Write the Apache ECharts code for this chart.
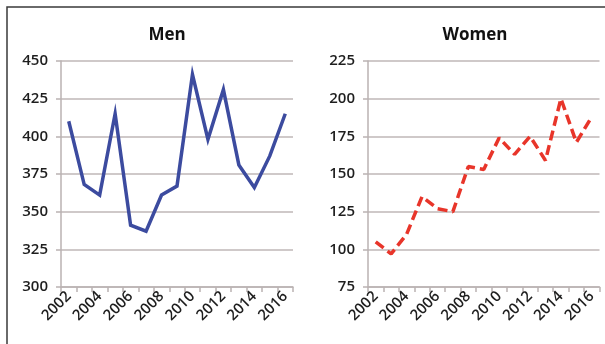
<!DOCTYPE html>
<html>
<head>
<meta charset="utf-8">
<script src="https://cdn.jsdelivr.net/npm/echarts@6/dist/echarts.min.js"></script>
<style>
  html, body { margin: 0; padding: 0; background: #fff; }
  #chart { width: 605px; height: 344px; }
</style>
</head>
<body>
<div id="chart"></div>
<script>
// Annual counts, 2002–2016
const years = ['2002','2003','2004','2005','2006','2007','2008','2009','2010','2011','2012','2013','2014','2015','2016'];
const men   = [410, 368, 361, 415, 341, 337, 361, 367, 441, 398, 431, 381, 366, 387, 415];
const women = [105, 97, 110, 135, 127, 125, 155, 153, 174, 163, 175, 159, 200, 171, 188];
const menTicks   = { min: 300, max: 450, step: 25 };
const womenTicks = { min: 75,  max: 225, step: 25 };

const FONT = '"Open Sans", "Liberation Sans", sans-serif';
const AXIS_COLOR = '#bab2b2';
const TEXT_COLOR = '#1e1e1e';

function xAxis(gridIndex) {
  return {
    type: 'category',
    gridIndex,
    data: years,
    boundaryGap: true,
    axisLine: { lineStyle: { color: AXIS_COLOR, width: 1.5 } },
    axisTick: { show: true, length: 5, alignWithLabel: false, interval: 0, lineStyle: { color: AXIS_COLOR, width: 1.5 } },
    axisLabel: {
      interval: 1, rotate: 45, margin: 7,
      color: TEXT_COLOR, fontFamily: FONT, fontSize: 15, fontWeight: 600
    }
  };
}

function yAxis(gridIndex, t) {
  return {
    type: 'value',
    gridIndex,
    min: t.min, max: t.max, interval: t.step,
    axisLine: { show: true, lineStyle: { color: AXIS_COLOR, width: 1.5 } },
    axisTick: { show: true, length: 5, lineStyle: { color: AXIS_COLOR, width: 1.5 } },
    splitLine: { lineStyle: { color: '#bfb7b7', width: 1.5 } },
    axisLabel: { margin: 13, color: TEXT_COLOR, fontFamily: FONT, fontSize: 15, fontWeight: 600 }
  };
}

const chart = echarts.init(document.getElementById('chart'), null, { renderer: 'canvas' });
chart.setOption({
  animation: false,
  backgroundColor: '#fff',
  title: [
    { text: 'Men',   left: 162, top: 22, textAlign: 'center',
      textStyle: { fontFamily: FONT, fontSize: 17, fontWeight: 'bold', color: '#111' } },
    { text: 'Women', left: 470, top: 22, textAlign: 'center',
      textStyle: { fontFamily: FONT, fontSize: 17, fontWeight: 'bold', color: '#111' } }
  ],
  grid: [
    { left: 61,  right: 312, top: 61, bottom: 57 },
    { left: 368, right: 5.5, top: 61, bottom: 57 }
  ],
  xAxis: [xAxis(0), xAxis(1)],
  yAxis: [yAxis(0, menTicks), yAxis(1, womenTicks)],
  series: [
    {
      name: 'Men', type: 'line', xAxisIndex: 0, yAxisIndex: 0,
      data: men, symbol: 'none',
      lineStyle: { color: '#3c4b9f', width: 3.5, join: 'miter' }
    },
    {
      name: 'Women', type: 'line', xAxisIndex: 1, yAxisIndex: 1,
      data: women, symbol: 'none',
      lineStyle: { color: '#e8352a', width: 3.5, type: [10, 5] }
    }
  ],
  graphic: [
    {
      type: 'polyline', silent: true,
      shape: { points: [[7, 344], [7, 7], [605, 7]] },
      style: { stroke: '#3a3a3a', lineWidth: 1.5, fill: null }
    }
  ]
});
</script>
</body>
</html>
